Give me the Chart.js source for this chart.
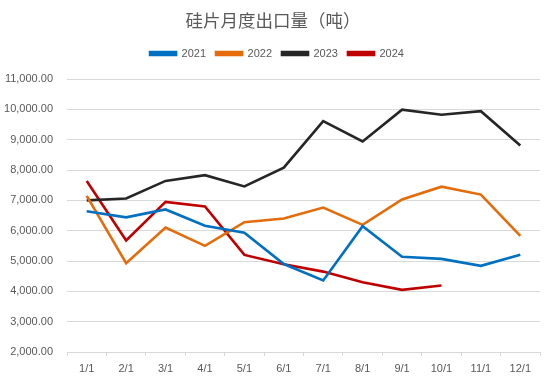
<!DOCTYPE html>
<html><head><meta charset="utf-8">
<script src="https://cdn.jsdelivr.net/npm/chart.js@4/dist/chart.umd.min.js"></script>
<style>html,body{margin:0;padding:0;background:#fff;}#wrap{width:550px;height:381px;}</style>
</head><body><div id="wrap"><canvas id="c"></canvas></div>
<script>
const categories = ["1/1","2/1","3/1","4/1","5/1","6/1","7/1","8/1","9/1","10/1","11/1","12/1"];
const s2021 = [6640,6440,6700,6160,5930,4900,4360,6150,5140,5070,4840,5210];
const s2022 = [7150,4930,6100,5500,6280,6400,6760,6190,7030,7450,7190,5830];
const s2023 = [7000,7060,7640,7830,7460,8080,9610,8940,9990,9820,9940,8810];
const s2024 = [7640,5680,6950,6800,5200,4890,4650,4300,4050,4190];
const titleText = "硅片月度出口量（吨）";
const yMin = 2000, yMax = 11000, yStep = 1000;

const ds = (label, data, color) => ({label, data, borderColor: color, backgroundColor: color,
  borderWidth: 2.6, pointRadius: 0, tension: 0, fill: false});

function wrapBox(box, dx, extraH) {
  if (!box || box._wrapped) return;
  const f = box.fit, d = box.draw;
  box.fit = function () { f.apply(this, arguments); this.height += extraH; };
  box.draw = function () {
    const ctx = this.ctx; ctx.save(); ctx.translate(dx, 0); d.apply(this, arguments); ctx.restore();
  };
  box._wrapped = true;
}
const shiftPlugin = { id: 'shiftPlugin', beforeLayout(chart) {
  wrapBox(chart.legend, 7, 10);
  wrapBox(chart.titleBlock, 3, 0);
}};

new Chart(document.getElementById('c'), {
  type: 'line',
  data: { labels: categories, datasets: [
    ds('2021', s2021, '#0070C0'),
    ds('2022', s2022, '#E46C0A'),
    ds('2023', s2023, '#262626'),
    ds('2024', s2024, '#C00000')
  ]},
  plugins: [shiftPlugin],
  options: {
    responsive: true, maintainAspectRatio: false, animation: false,
    layout: { padding: { left: 0, right: 10, top: 0, bottom: 0 } },
    plugins: {
      title: { display: true, text: titleText, color: '#595959',
        font: { family: "'Noto Sans CJK SC', sans-serif", size: 17.5, weight: 'normal' },
        padding: { top: 10, bottom: 7 } },
      legend: { position: 'top', labels: { color: '#595959', boxWidth: 26, boxHeight: 3,
        font: { family: "'Liberation Sans', sans-serif", size: 11 }, padding: 10 } },
      tooltip: { enabled: false }
    },
    scales: {
      x: {
        offset: true,
        grid: { display: true, drawOnChartArea: false, drawTicks: true, tickLength: 4, color: '#D9D9D9', offset: true },
        border: { display: true, color: '#D9D9D9' },
        ticks: { color: '#595959', font: { family: "'Liberation Sans', sans-serif", size: 11 }, padding: 6, maxRotation: 0 },
        afterFit: (s) => { s.height = 29; }
      },
      y: {
        min: yMin, max: yMax,
        grid: { color: '#D9D9D9', drawTicks: false },
        border: { display: false },
        ticks: { stepSize: yStep, color: '#595959', padding: 14,
          font: { family: "'Liberation Sans', sans-serif", size: 11 },
          callback: (v) => v.toLocaleString('en-US', {minimumFractionDigits: 2, maximumFractionDigits: 2}) },
        afterFit: (s) => { s.width = 67; }
      }
    }
  }
});
</script></body></html>
